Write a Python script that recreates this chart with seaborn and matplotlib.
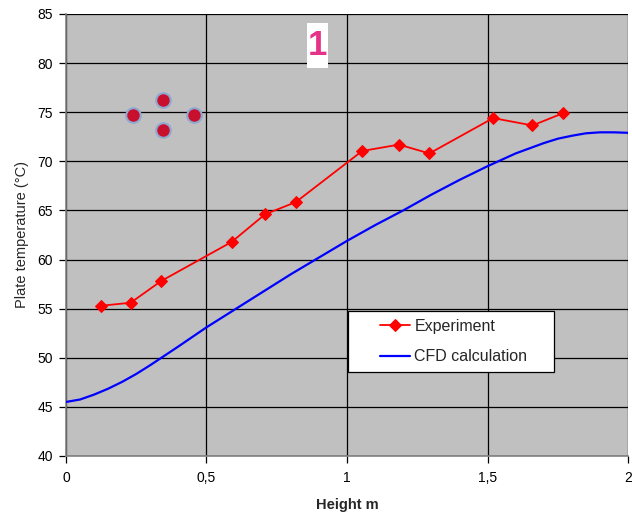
import matplotlib
matplotlib.use("Agg")
import matplotlib.pyplot as plt
import seaborn as sns
import pandas as pd
from matplotlib.patches import Rectangle
from matplotlib.ticker import FuncFormatter

# experiment points
exp_height = [0.126, 0.23, 0.338, 0.59, 0.708, 0.818, 1.054, 1.185, 1.293, 1.52, 1.66, 1.769]
exp_temp = [55.3, 55.6, 57.8, 61.8, 64.6, 65.85, 71.05, 71.7, 70.8, 74.4, 73.65, 74.9]

# CFD curve
cfd_height = [0.0, 0.05, 0.1, 0.15, 0.2, 0.25, 0.3, 0.4, 0.5, 0.6, 0.7, 0.8, 0.9, 1.0,
              1.1, 1.2, 1.3, 1.4, 1.5, 1.6, 1.7, 1.75, 1.8, 1.85, 1.9, 1.95, 2.0]
cfd_temp = [45.5, 45.75, 46.25, 46.85, 47.55, 48.35, 49.25, 51.15, 53.1, 54.9, 56.7, 58.5, 60.2, 61.9,
            63.5, 65.0, 66.6, 68.1, 69.5, 70.8, 71.85, 72.3, 72.6, 72.85, 72.95, 72.95, 72.9]

# sensor layout marks
dot_x = [0.238, 0.345, 0.345, 0.455]
dot_y = [74.7, 76.2, 73.2, 74.7]

sns.set_style("white")
plt.rcParams["font.family"] = ["Liberation Sans", "DejaVu Sans"]

fig = plt.figure(figsize=(6.32, 5.17), dpi=100)
ax = fig.add_axes([0.1044, 0.118, 0.8893, 0.855])
ax.set_facecolor("#C0C0C0")

exp_df = pd.DataFrame({"h": exp_height, "t": exp_temp})
cfd_df = pd.DataFrame({"h": cfd_height, "t": cfd_temp})

sns.lineplot(data=cfd_df, x="h", y="t", ax=ax, color="#0000FF", lw=1.6,
             label="CFD calculation", zorder=3)
sns.lineplot(data=exp_df, x="h", y="t", ax=ax, color="#FF0000", lw=1.3,
             marker="D", markersize=6.5, markeredgecolor="#FF0000",
             label="Experiment", zorder=4)

ax.scatter(dot_x, dot_y, s=110, color="#C8102E", edgecolor="#8FA8D0",
           linewidth=1.5, zorder=5)

ax.set_xlim(0, 2)
ax.set_ylim(40, 85)
ax.set_xticks([0, 0.5, 1, 1.5, 2])
ax.set_yticks(range(40, 86, 5))
ax.xaxis.set_major_formatter(FuncFormatter(lambda v, p: f"{v:g}".replace(".", ",")))
ax.grid(True, color="black", lw=0.9)
ax.set_axisbelow(True)
ax.tick_params(axis="both", direction="out", length=5, width=0.9,
               colors="black", labelsize=10, bottom=True, left=True)
ax.tick_params(axis="y", pad=4.5)
ax.tick_params(axis="x", pad=6)
for s in ["top", "right"]:
    ax.spines[s].set_visible(False)
for s in ["left", "bottom"]:
    ax.spines[s].set_color("#808080")
    ax.spines[s].set_linewidth(1.2)

ax.set_xlabel("Height m", fontsize=10.5, fontweight="bold", labelpad=9)
ax.set_ylabel("Plate temperature (°C)", fontsize=10.5, labelpad=6)

# legend box
ax.add_patch(Rectangle((0.5018, 0.190), 0.3665, 0.138, transform=ax.transAxes,
                       facecolor="white", edgecolor="black", lw=0.9, zorder=6))
handles, labels = ax.get_legend_handles_labels()
leg = ax.legend(handles[::-1], labels[::-1], loc="center left",
                bbox_to_anchor=(0.5587, 0.259), fontsize=11.5, frameon=False,
                borderpad=0, borderaxespad=0, handlelength=1.9,
                handletextpad=0.25, labelspacing=0.95)
leg.set_zorder(7)

# panel number
ax.add_patch(Rectangle((0.4288, 0.878), 0.0374, 0.102, transform=ax.transAxes,
                       facecolor="white", edgecolor="none", zorder=6))
ax.text(0.4475, 0.929, "1", transform=ax.transAxes, fontsize=25, fontweight="bold",
        color="#E6338A", ha="center", va="center", zorder=7)

fig.savefig("out.png", dpi=100)
